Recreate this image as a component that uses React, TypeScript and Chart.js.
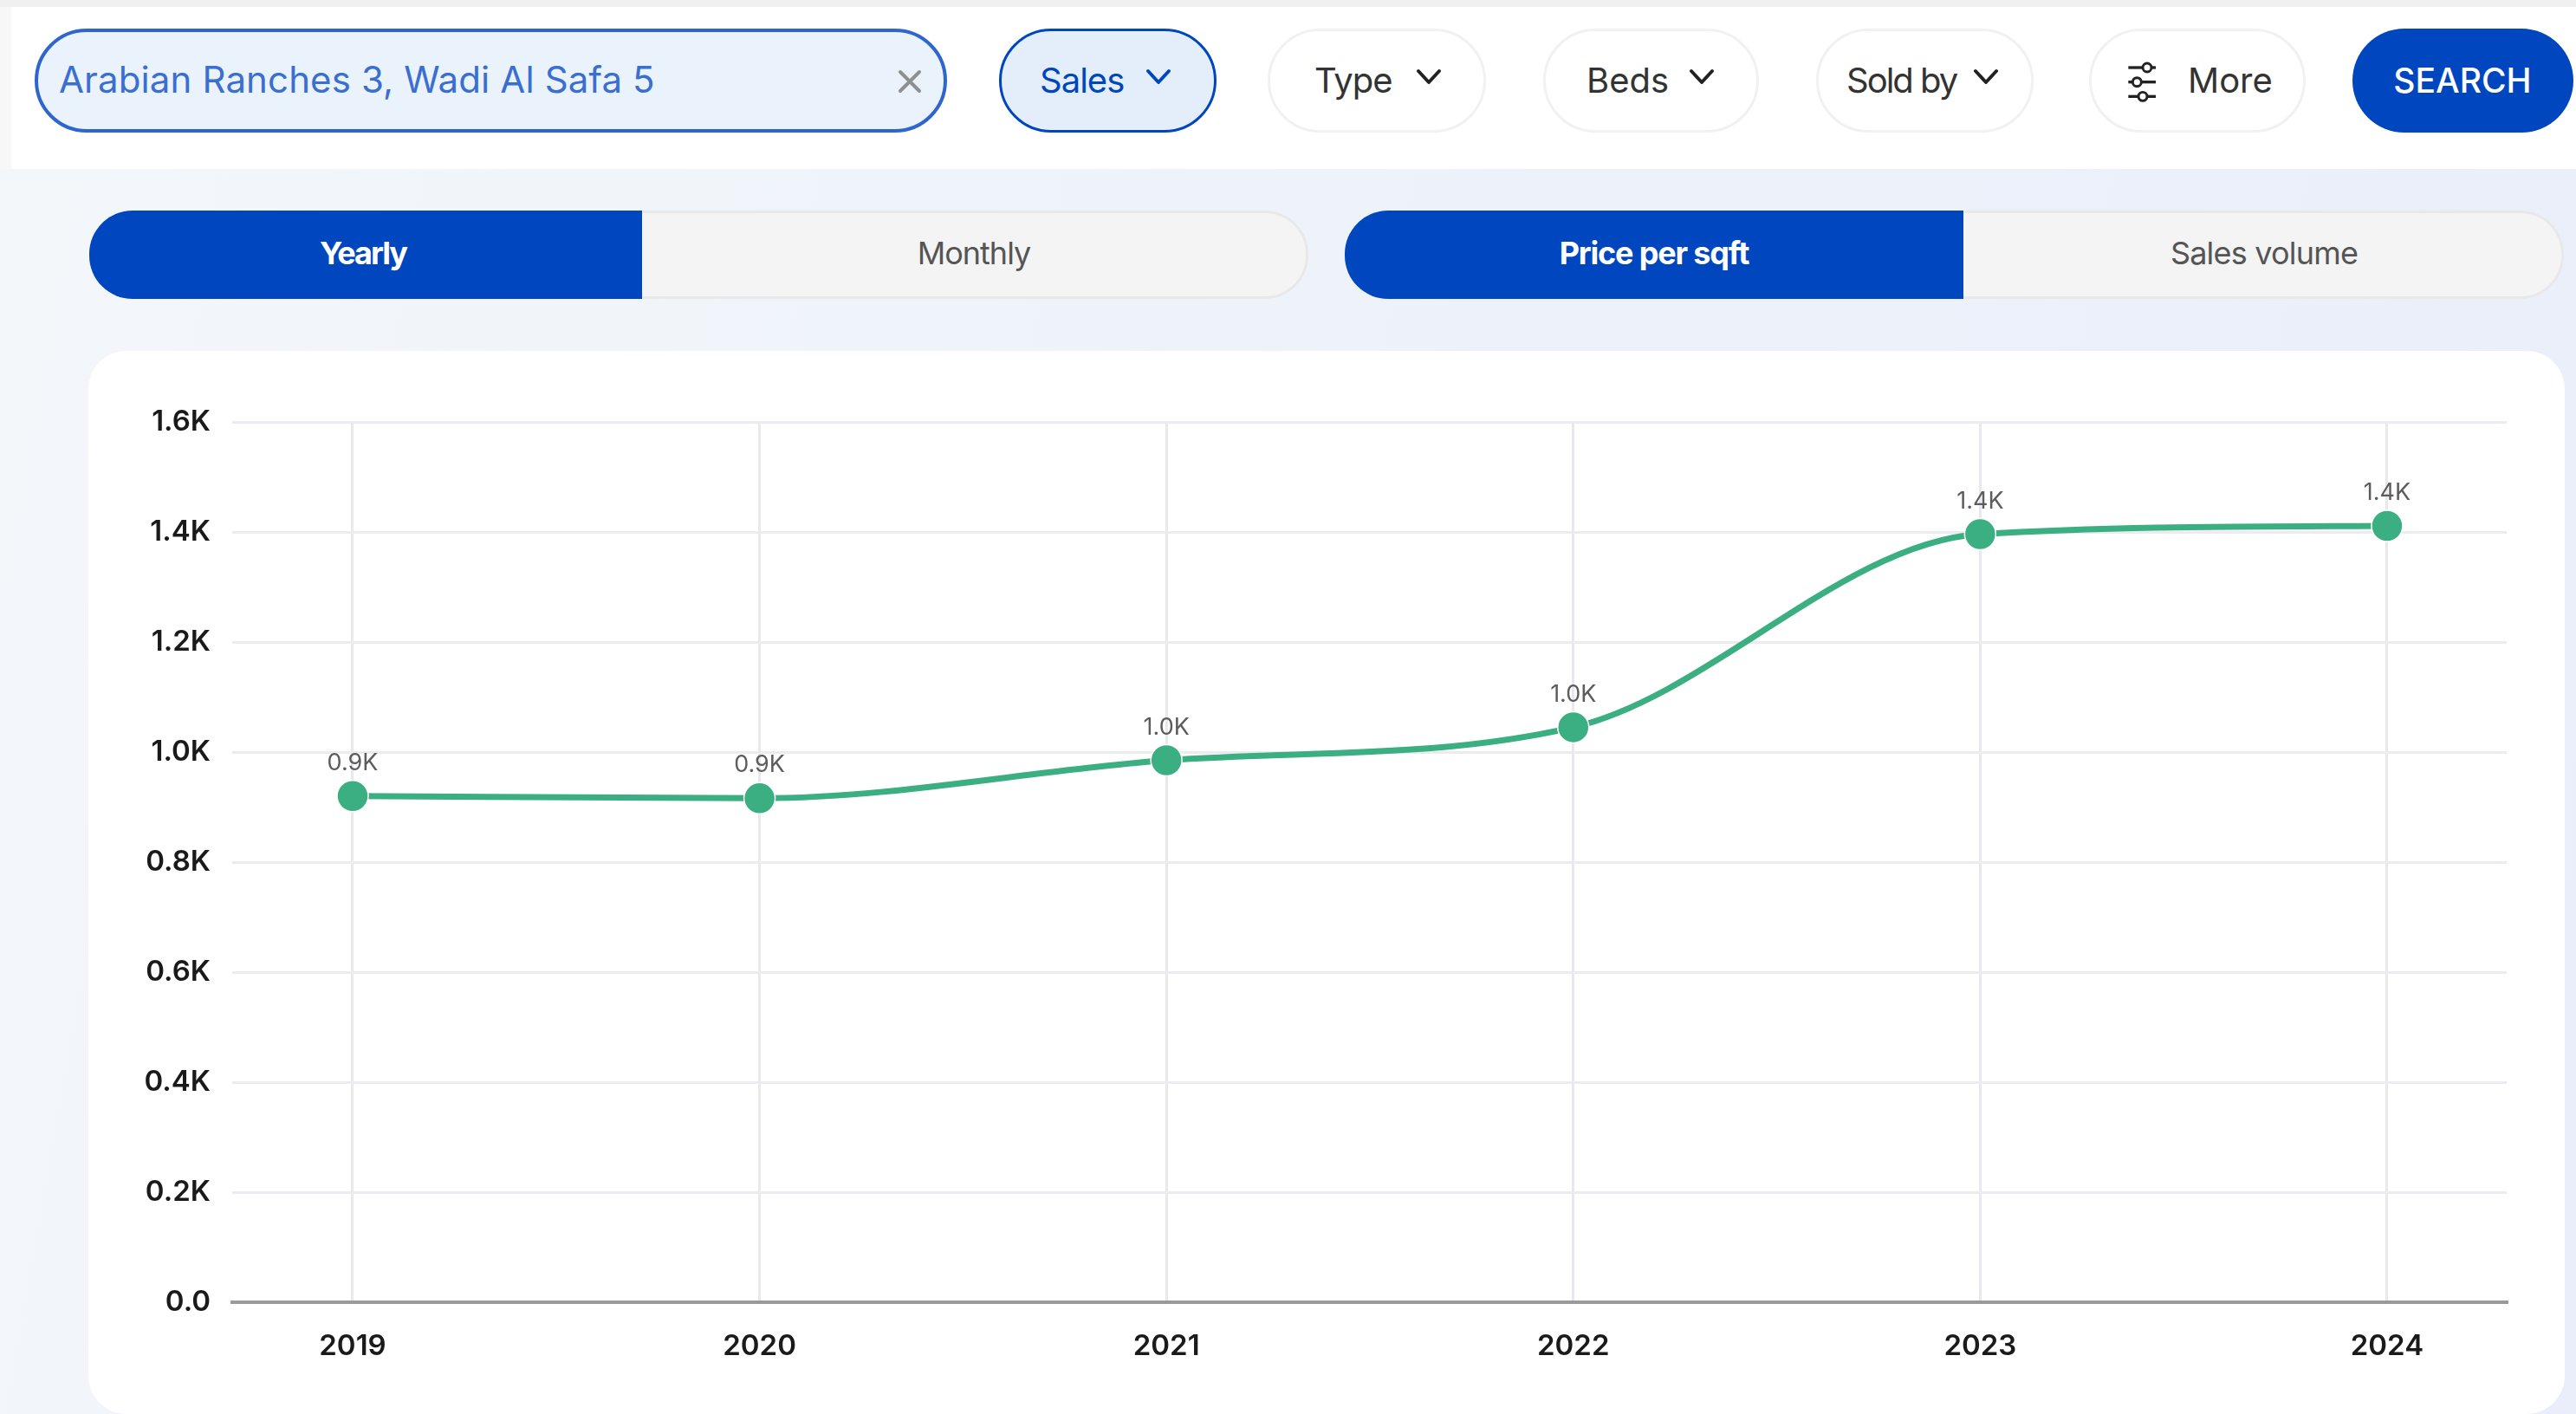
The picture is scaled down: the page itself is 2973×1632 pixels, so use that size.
import React, { useEffect, useRef } from "react";
import { Chart, registerables } from "chart.js";

Chart.register(...registerables);

// Yearly average price per square foot
const years = [2019, 2020, 2021, 2022, 2023, 2024];
const pricePerSqft = [920, 916, 985, 1045, 1396, 1411];
const yTickValues = [0, 200, 400, 600, 800, 1000, 1200, 1400, 1600];

const FONT = "Inter, 'Noto Sans', sans-serif";
const BLUE = "#0046BE";
const GREEN = "#3BAF82";

const formatK = (v: number) => (v === 0 ? "0.0" : `${(v / 1000).toFixed(1)}K`);

// Writes the rounded value above each point
const pointLabels = {
  id: "pointLabels",
  afterDatasetsDraw(chart: any) {
    const { ctx } = chart;
    const meta = chart.getDatasetMeta(0);
    ctx.save();
    ctx.font = `400 27px ${FONT}`;
    ctx.fillStyle = "#5c5c5c";
    ctx.textAlign = "center";
    ctx.textBaseline = "middle";
    meta.data.forEach((pt: any, i: number) => {
      ctx.fillText(formatK(pricePerSqft[i]), pt.x, pt.y - 38);
    });
    ctx.restore();
  },
};

function PriceChart() {
  const ref = useRef<HTMLCanvasElement>(null);
  useEffect(() => {
    const chart = new Chart(ref.current as HTMLCanvasElement, {
      type: "line",
      data: {
        datasets: [
          {
            label: "Price per sqft",
            data: years.map((y, i) => ({ x: y, y: pricePerSqft[i] })),
            borderColor: GREEN,
            borderWidth: 7,
            cubicInterpolationMode: "monotone",
            pointRadius: 18,
            pointBackgroundColor: GREEN,
            pointBorderColor: "#ffffff",
            pointBorderWidth: 1.5,
          },
        ],
      },
      options: {
        animation: false,
        responsive: false,
        layout: { padding: { top: 82, right: 67, left: 0, bottom: 0 } },
        plugins: { legend: { display: false }, tooltip: { enabled: false } },
        scales: {
          x: {
            type: "linear",
            min: years[0] - 0.296,
            max: years[years.length - 1] + 0.294,
            afterFit: (s: any) => {
              s.height = 129;
            },
            border: { color: "#9a9a9a", width: 4 },
            grid: { color: "#E8E8EE", lineWidth: 3, drawTicks: false },
            ticks: {
              stepSize: 1,
              includeBounds: false,
              maxRotation: 0,
              padding: 31,
              color: "#1a1a1a",
              font: { family: FONT, size: 33, weight: "600" },
              callback: (v: any) => String(v),
            },
          },
          y: {
            min: yTickValues[0],
            max: yTickValues[yTickValues.length - 1],
            afterFit: (s: any) => {
              s.width = 166;
            },
            border: { display: false },
            grid: { color: "#EBEBF0", lineWidth: 3, drawTicks: false },
            afterBuildTicks: (s: any) => {
              s.ticks = yTickValues.map((value) => ({ value }));
            },
            ticks: {
              padding: 25,
              color: "#1a1a1a",
              font: { family: FONT, size: 33, weight: "600" },
              callback: (v: any) => formatK(Number(v)),
            },
          },
        },
      },
      plugins: [pointLabels],
    } as any);
    return () => chart.destroy();
  }, []);
  return (
    <canvas
      ref={ref}
      width={2858}
      height={1227}
      style={{ position: "absolute", left: 102, top: 405, width: 2858, height: 1227, display: "block" }}
    />
  );
}

function Box(props: { l: number; r: number; t: number; b: number; style?: React.CSSProperties; children?: React.ReactNode }) {
  const { l, r, t, b, style, children } = props;
  return (
    <div style={{ position: "absolute", boxSizing: "border-box", left: l, top: t, width: r - l, height: b - t, ...style }}>
      {children}
    </div>
  );
}

function Label(props: { x: number; y: number; center?: boolean; size?: number; weight?: number; color?: string; spacing?: number; children: React.ReactNode }) {
  const { x, y, center, size = 40, weight = 400, color = "#333", spacing = 0, children } = props;
  return (
    <div
      style={{
        position: "absolute",
        left: x,
        top: y,
        transform: center ? "translate(-50%,-50%)" : "translateY(-50%)",
        fontFamily: FONT,
        fontSize: size,
        fontWeight: weight,
        color,
        letterSpacing: spacing,
        whiteSpace: "nowrap",
        lineHeight: 1,
      }}
    >
      {children}
    </div>
  );
}

function Chevron({ x, color = "#222" }: { x: number; color?: string }) {
  return (
    <svg style={{ position: "absolute", left: x - 15, top: 78, width: 30, height: 22 }} viewBox="0 0 30 22">
      <path d="M3 4 L15 17 L27 4" fill="none" stroke={color} strokeWidth="4" strokeLinecap="round" strokeLinejoin="round" />
    </svg>
  );
}

function Sliders({ x }: { x: number }) {
  const rows = [
    [72, 0, 40, 26],
    [92, 0, 40, 12],
    [112, 0, 40, 20],
  ];
  return (
    <svg style={{ position: "absolute", left: x - 22, top: 68, width: 44, height: 50 }} viewBox="0 60 44 60">
      {rows.map(([y, a, b, k]) => (
        <g key={y}>
          <line x1={a + 2} y1={y} x2={b} y2={y} stroke="#222" strokeWidth="4" />
          <circle cx={k + 2} cy={y} r="6" fill="#fff" stroke="#222" strokeWidth="3.5" />
        </g>
      ))}
    </svg>
  );
}

const pill = (bg: string, border: string, width = 3): React.CSSProperties => ({
  background: bg,
  border: `${width}px solid ${border}`,
  borderRadius: 60,
});

const activeTab = (rounded: string): React.CSSProperties => ({ background: BLUE, borderRadius: rounded });
const idleTab = (rounded: string): React.CSSProperties => ({
  background: "#F4F4F4",
  border: "3px solid #E8E8E8",
  borderLeft: "none",
  borderRadius: rounded,
});

export default function App() {
  useEffect(() => {
    document.body.style.margin = "0";
  }, []);
  return (
    <div
      style={{
        position: "relative",
        width: 2973,
        height: 1632,
        overflow: "hidden",
        background: "linear-gradient(100deg, #F3F7FA 0%, #EEF3FA 45%, #E9EEFA 100%)",
      }}
    >
      <Box l={0} r={2973} t={0} b={8} style={{ background: "#F0F0F0" }} />
      <Box l={0} r={13} t={8} b={195} style={{ background: "#F7F7F7" }} />
      <Box l={13} r={2973} t={8} b={195} style={{ background: "#fff" }} />

      <Box l={40} r={1093} t={33} b={153} style={pill("#EAF3FB", "#2F66CC", 4)} />
      <Label x={68} y={92} size={42} color="#3A6FD0" spacing={0.12}>Arabian Ranches 3, Wadi Al Safa 5</Label>
      <svg style={{ position: "absolute", left: 1036, top: 80, width: 28, height: 28 }} viewBox="0 0 28 28">
        <path d="M3 3 L25 25 M25 3 L3 25" stroke="#8f8f8f" strokeWidth="4" strokeLinecap="round" />
      </svg>

      <Box l={1153} r={1404} t={33} b={153} style={pill("#E4EEFA", BLUE)} />
      <Label x={1200} y={93} color={BLUE} spacing={-1}>Sales</Label>
      <Chevron x={1337} color={BLUE} />

      <Box l={1463} r={1715} t={33} b={153} style={pill("#fff", "#F1F1F1")} />
      <Label x={1517} y={93} spacing={-1}>Type</Label>
      <Chevron x={1649} />

      <Box l={1781} r={2030} t={33} b={153} style={pill("#fff", "#F1F1F1")} />
      <Label x={1831} y={93}>Beds</Label>
      <Chevron x={1964} />

      <Box l={2096} r={2347} t={33} b={153} style={pill("#fff", "#F1F1F1")} />
      <Label x={2131} y={93} spacing={-2}>Sold by</Label>
      <Chevron x={2292} />

      <Box l={2411} r={2661} t={33} b={153} style={pill("#fff", "#F1F1F1")} />
      <Sliders x={2473} />
      <Label x={2525} y={93}>More</Label>

      <Box l={2715} r={2970} t={33} b={153} style={{ background: BLUE, borderRadius: 60 }} />
      <Label x={2842} y={92} center size={39} weight={500} color="#fff">SEARCH</Label>

      <Box l={103} r={741} t={243} b={345} style={activeTab("50px 0 0 50px")} />
      <Label x={419} y={292} center size={36} weight={700} color="#fff" spacing={-2}>Yearly</Label>
      <Box l={741} r={1510} t={243} b={345} style={idleTab("0 50px 50px 0")} />
      <Label x={1124} y={292} center size={36} color="#555" spacing={-1}>Monthly</Label>

      <Box l={1552} r={2266} t={243} b={345} style={activeTab("50px 0 0 50px")} />
      <Label x={1909} y={292} center size={36} weight={700} color="#fff" spacing={-1.2}>Price per sqft</Label>
      <Box l={2266} r={2959} t={243} b={345} style={idleTab("0 50px 50px 0")} />
      <Label x={2613} y={292} center size={36} color="#555" spacing={-0.8}>Sales volume</Label>

      <Box l={102} r={2960} t={405} b={1632} style={{ background: "#fff", borderRadius: 44 }} />
      <PriceChart />
    </div>
  );
}
